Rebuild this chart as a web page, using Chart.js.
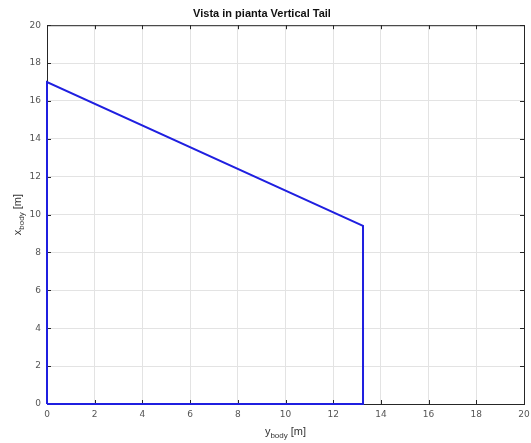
<!DOCTYPE html>
<html>
<head>
<meta charset="utf-8">
<script src="https://cdn.jsdelivr.net/npm/chart.js@4/dist/chart.umd.min.js"></script>
<style>
  html, body { margin: 0; padding: 0; background: #fff; }
  #wrap { width: 531px; height: 443px; }
</style>
</head>
<body>
<div id="wrap"><canvas id="chart"></canvas></div>
<script>
// outline of the vertical tail in plan view
const yBody = [0, 0, 13.25, 13.25, 0];
const xBody = [0, 17, 9.4, 0, 0];
const tickValues = [0, 2, 4, 6, 8, 10, 12, 14, 16, 18, 20];

const titleText = "Vista in pianta Vertical Tail";
const xTitle = { main: "y", sub: "body", unit: " [m]" };
const yTitle = { main: "x", sub: "body", unit: " [m]" };

const points = yBody.map((v, i) => ({ x: v, y: xBody[i] }));

function drawSubTitle(ctx, t, size) {
  const mainFont = size + "px 'Liberation Sans', Arial, sans-serif";
  const subFont = Math.round(size * 0.75) + "px 'Liberation Sans', Arial, sans-serif";
  ctx.font = mainFont;
  const w1 = ctx.measureText(t.main).width;
  const w3 = ctx.measureText(t.unit).width;
  ctx.font = subFont;
  const w2 = ctx.measureText(t.sub).width;
  const total = w1 + w2 + w3;
  let x = -total / 2;
  ctx.textBaseline = "alphabetic";
  ctx.textAlign = "left";
  ctx.font = mainFont;
  ctx.fillText(t.main, x, 0);
  x += w1;
  ctx.font = subFont;
  ctx.fillText(t.sub, x, 3);
  x += w2;
  ctx.font = mainFont;
  ctx.fillText(t.unit, x, 0);
}

const framePlugin = {
  id: "frame",
  beforeDatasetsDraw(chart) {
    const { ctx, chartArea: a } = chart;
    ctx.save();
    ctx.strokeStyle = "#262626";
    ctx.lineWidth = 1;
    ctx.strokeRect(a.left + 0.5, a.top + 0.5, a.right - a.left, a.bottom - a.top);
    // inward tick marks
    const xs = chart.scales.x, ys = chart.scales.y;
    ctx.beginPath();
    tickValues.forEach(v => {
      const px = Math.round(xs.getPixelForValue(v)) + 0.5;
      ctx.moveTo(px, a.bottom); ctx.lineTo(px, a.bottom - 4);
      ctx.moveTo(px, a.top); ctx.lineTo(px, a.top + 4);
      const py = Math.round(ys.getPixelForValue(v)) + 0.5;
      ctx.moveTo(a.left, py); ctx.lineTo(a.left + 4, py);
      ctx.moveTo(a.right, py); ctx.lineTo(a.right - 4, py);
    });
    ctx.stroke();
    ctx.restore();
  },
  afterDraw(chart) {
    const { ctx, chartArea: a } = chart;
    // axis titles with subscripts
    ctx.save();
    ctx.fillStyle = "#333";
    ctx.save();
    ctx.translate((a.left + a.right) / 2, 435);
    drawSubTitle(ctx, xTitle, 11);
    ctx.restore();
    ctx.save();
    ctx.translate(21, (a.top + a.bottom) / 2);
    ctx.rotate(-Math.PI / 2);
    drawSubTitle(ctx, yTitle, 11);
    ctx.restore();
    ctx.restore();
  }
};

new Chart(document.getElementById("chart"), {
  type: "scatter",
  data: {
    datasets: [{
      data: points,
      showLine: true,
      borderColor: "#1f1fe0",
      borderWidth: 2,
      pointRadius: 0,
      fill: false,
      tension: 0,
      clip: false
    }]
  },
  options: {
    responsive: true,
    maintainAspectRatio: false,
    animation: false,
    layout: { padding: { left: 0, right: 7, top: 0, bottom: 0 } },
    plugins: {
      legend: { display: false },
      tooltip: { enabled: false },
      title: {
        display: true,
        text: titleText,
        color: "#111",
        font: { family: "'Liberation Sans', Arial, sans-serif", size: 11, weight: "bold" },
        padding: { top: 7, bottom: 5 }
      }
    },
    scales: {
      x: {
        type: "linear",
        min: 0, max: 20,
        afterBuildTicks: s => { s.ticks = tickValues.map(v => ({ value: v })); },
        afterFit: s => { s.height = 39; s.paddingLeft = 0; s.paddingRight = 0; },
        grid: { color: "#e3e3e3", drawTicks: false },
        border: { display: false },
        ticks: {
          color: "#555",
          padding: 5,
          maxRotation: 0,
          font: { family: "'DejaVu Sans', sans-serif", size: 9 }
        }
      },
      y: {
        type: "linear",
        min: 0, max: 20,
        afterBuildTicks: s => { s.ticks = tickValues.map(v => ({ value: v })); },
        afterFit: s => { s.width = 47; s.paddingTop = 0; s.paddingBottom = 0; },
        grid: { color: "#e3e3e3", drawTicks: false },
        border: { display: false },
        ticks: {
          color: "#555",
          padding: 6,
          font: { family: "'DejaVu Sans', sans-serif", size: 9 }
        }
      }
    }
  },
  plugins: [framePlugin]
});
</script>
</body>
</html>
